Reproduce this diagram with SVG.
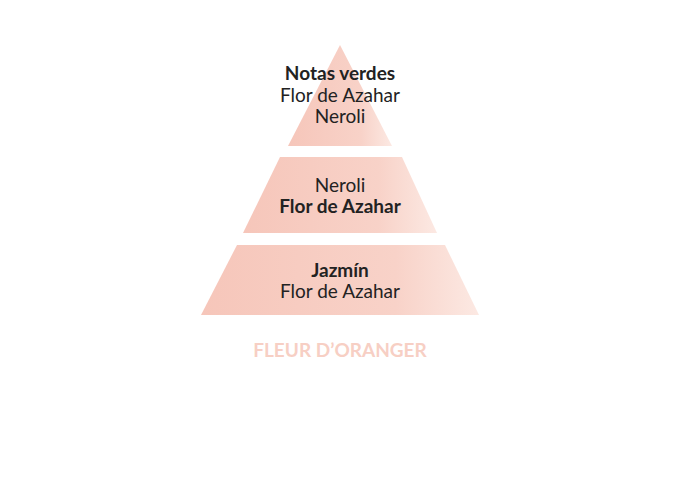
<svg xmlns="http://www.w3.org/2000/svg" width="680" height="479" viewBox="0 0 680 479">
<defs>
<linearGradient id="g" x1="0" y1="0" x2="1" y2="0">
<stop offset="0" stop-color="#f6c6ba"/><stop offset="0.7" stop-color="#f8d2c8"/><stop offset="1" stop-color="#fce9e3"/>
</linearGradient>
</defs>
<style>
.t{font-family:Lato,"Noto Sans",sans-serif;font-size:19px;fill:#222;text-anchor:middle}
.b{font-weight:bold}
.f{font-family:Lato,"Noto Sans",sans-serif;font-size:19px;font-weight:bold;fill:#f7cfc4;text-anchor:middle}
</style>
<rect width="680" height="479" fill="#fff"/>
<g id="top"><polygon points="340,45 392,146 288,146" fill="url(#g)"/>
<text class="t b" x="340" y="80">Notas verdes</text>
<text class="t" x="340" y="102">Flor de Azahar</text>
<text class="t" x="340" y="123">Neroli</text></g>
<g id="middle"><polygon points="280,157 402,157 437,233 243,233" fill="url(#g)"/>
<text class="t" x="340" y="192">Neroli</text>
<text class="t b" x="340" y="213">Flor de Azahar</text></g>
<g id="bottom"><polygon points="237,245 445,245 479,315 201,315" fill="url(#g)"/>
<text class="t b" x="340" y="277">Jazmín</text>
<text class="t" x="340" y="298">Flor de Azahar</text></g>
<g id="connectors"/>
<text class="f" x="340" y="357">FLEUR D’ORANGER</text>
</svg>
